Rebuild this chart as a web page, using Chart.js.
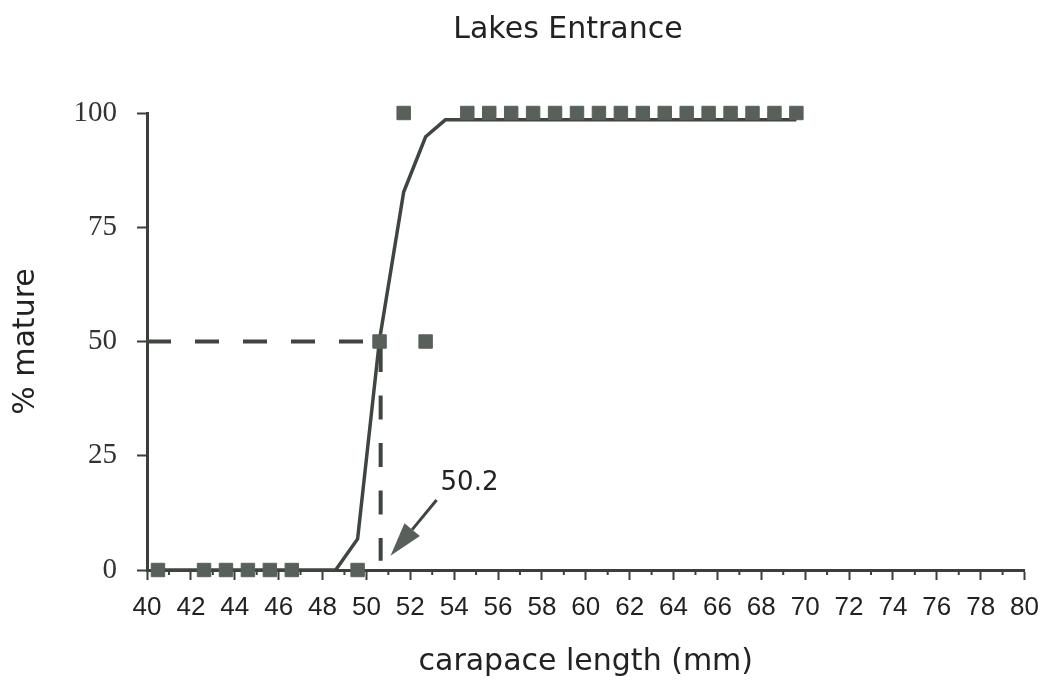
<!DOCTYPE html>
<html>
<head>
<meta charset="utf-8">
<script src="https://cdn.jsdelivr.net/npm/chart.js@4.4.1/dist/chart.umd.min.js"></script>
<style>
    body { margin: 0; background: #fff; }
    #wrap { position: relative; width: 1051px; height: 685px; }
    #chart-title {
        position: absolute; top: 10px; left: 568px; transform: translateX(-50%);
        font-family: 'DejaVu Sans', sans-serif; font-size: 30px; line-height: 36px;
        color: #222; white-space: nowrap;
    }
</style>
</head>
<body>
<div id="wrap">
    <div id="chart-title">Lakes Entrance</div>
    <canvas id="maturityChart" width="1051" height="685"></canvas>
</div>
<script>
// observed % mature by carapace length class
const obsLength = [40.5, 42.6, 43.6, 44.6, 45.6, 46.6, 49.6, 50.6, 51.7, 52.7,
    54.6, 55.6, 56.6, 57.6, 58.6, 59.6, 60.6, 61.6, 62.6, 63.6, 64.6, 65.6, 66.6, 67.6, 68.6, 69.6];
const obsMature = [0, 0, 0, 0, 0, 0, 0, 50, 100, 50,
    100, 100, 100, 100, 100, 100, 100, 100, 100, 100, 100, 100, 100, 100, 100, 100];

// fitted logistic curve
const fitLength = [40.5, 48.6, 49.6, 50.6, 51.7, 52.7, 53.6, 69.6];
const fitMature = [0, 0, 6.8, 50.4, 82.7, 94.8, 98.5, 98.5];

// size at 50% maturity (drawn position and label)
const l50Label = '50.2';
const l50X = 50.65;
const l50Y = 50;
const l50Bottom = 2;
const arrowFrom = { x: 53.2, y: 15.3 };
const arrowTo = { x: 51.1, y: 3.1 };
const arrowLabelAt = { x: 54.7, y: 19 };

const yTickValues = [0, 25, 50, 75, 100];

const markColor = '#58605a';
const lineColor = '#3f453f';
const axisColor = '#3a3f3a';
const textColor = '#222';

const toPoints = (xs, ys) => xs.map((x, i) => ({ x: x, y: ys[i] }));

// minor ticks (odd values) are shorter than the labelled ones
const minorTicks = {
    id: 'minorTicks',
    afterDraw(chart) {
        const xs = chart.scales.x;
        const ctx = chart.ctx;
        ctx.save();
        ctx.strokeStyle = axisColor;
        ctx.lineWidth = 2;
        xs.ticks.forEach(t => {
            if (t.value % 2 === 0) return;
            const px = xs.getPixelForValue(t.value);
            ctx.beginPath();
            ctx.moveTo(px, xs.top);
            ctx.lineTo(px, xs.top + 5);
            ctx.stroke();
        });
        ctx.restore();
    }
};

// arrow pointing at the 50% length, with its label
const l50Arrow = {
    id: 'l50Arrow',
    afterDatasetsDraw(chart) {
        const xs = chart.scales.x, ys = chart.scales.y;
        const ctx = chart.ctx;
        const x1 = xs.getPixelForValue(arrowFrom.x), y1 = ys.getPixelForValue(arrowFrom.y);
        const x2 = xs.getPixelForValue(arrowTo.x), y2 = ys.getPixelForValue(arrowTo.y);
        const ang = Math.atan2(y2 - y1, x2 - x1);
        const headLen = 34, headHalf = 10;
        const bx = x2 - headLen * Math.cos(ang), by = y2 - headLen * Math.sin(ang);

        ctx.save();
        ctx.strokeStyle = lineColor;
        ctx.fillStyle = markColor;
        ctx.lineWidth = 3;
        ctx.beginPath();
        ctx.moveTo(x1, y1);
        ctx.lineTo(bx, by);
        ctx.stroke();
        ctx.beginPath();
        ctx.moveTo(x2, y2);
        ctx.lineTo(bx + headHalf * Math.sin(ang), by - headHalf * Math.cos(ang));
        ctx.lineTo(bx - headHalf * Math.sin(ang), by + headHalf * Math.cos(ang));
        ctx.closePath();
        ctx.fill();

        ctx.fillStyle = textColor;
        ctx.font = '26px "DejaVu Sans", sans-serif';
        ctx.textAlign = 'center';
        ctx.textBaseline = 'middle';
        ctx.fillText(l50Label, xs.getPixelForValue(arrowLabelAt.x), ys.getPixelForValue(arrowLabelAt.y));
        ctx.restore();
    }
};

const ctx = document.getElementById('maturityChart').getContext('2d');
new Chart(ctx, {
    type: 'scatter',
    data: {
        datasets: [
            {
                label: 'observed',
                data: toPoints(obsLength, obsMature),
                pointStyle: 'rect',
                pointRadius: 9.5,
                pointBorderWidth: 1,
                backgroundColor: markColor,
                borderColor: markColor,
                showLine: false,
                clip: false
            },
            {
                label: 'fitted',
                data: toPoints(fitLength, fitMature),
                showLine: true,
                borderColor: lineColor,
                borderWidth: 3.5,
                pointRadius: 0,
                tension: 0,
                clip: false
            },
            {
                label: 'L50 horizontal',
                data: [{ x: 40, y: l50Y }, { x: l50X, y: l50Y }],
                showLine: true,
                borderColor: lineColor,
                borderWidth: 4,
                borderDash: [24, 24],
                pointRadius: 0,
                clip: false
            },
            {
                label: 'L50 vertical',
                data: [{ x: l50X, y: l50Y }, { x: l50X, y: l50Bottom }],
                showLine: true,
                borderColor: lineColor,
                borderWidth: 4,
                borderDash: [24, 23.5],
                borderDashOffset: 41,
                pointRadius: 0,
                clip: false
            }
        ]
    },
    options: {
        responsive: false,
        animation: false,
        layout: { padding: { top: 113, right: 22, left: 0, bottom: 0 } },
        plugins: {
            legend: { display: false },
            tooltip: { enabled: false }
        },
        scales: {
            x: {
                type: 'linear',
                min: 40,
                max: 80,
                afterFit: s => { s.height = 115; },
                border: { display: true, color: axisColor, width: 3 },
                grid: {
                    drawOnChartArea: false,
                    drawTicks: true,
                    tickLength: 10,
                    tickWidth: 2,
                    tickColor: c => (c.tick && c.tick.value % 2 === 0) ? axisColor : 'rgba(0,0,0,0)'
                },
                ticks: {
                    stepSize: 1,
                    autoSkip: false,
                    maxRotation: 0,
                    padding: 12,
                    color: textColor,
                    font: { family: '"Liberation Sans", sans-serif', size: 26 },
                    callback: v => (v % 2 === 0 ? v : '')
                },
                title: {
                    display: true,
                    text: 'carapace length (mm)',
                    color: textColor,
                    font: { family: '"DejaVu Sans", sans-serif', size: 30 },
                    padding: { top: 0, bottom: 4.5 }
                }
            },
            y: {
                min: 0,
                max: 100,
                afterFit: s => { s.width = 147; },
                afterBuildTicks: s => { s.ticks = yTickValues.map(v => ({ value: v })); },
                border: { display: true, color: axisColor, width: 3 },
                grid: {
                    drawOnChartArea: false,
                    drawTicks: true,
                    tickLength: 10,
                    tickWidth: 2,
                    tickColor: axisColor
                },
                ticks: {
                    padding: 20,
                    color: '#333',
                    font: { family: '"Liberation Serif", serif', size: 29 }
                },
                title: {
                    display: true,
                    text: '% mature',
                    color: textColor,
                    font: { family: '"DejaVu Sans", sans-serif', size: 30 },
                    padding: { top: 8.5, bottom: 0 }
                }
            }
        }
    },
    plugins: [minorTicks, l50Arrow]
});
</script>
</body>
</html>
